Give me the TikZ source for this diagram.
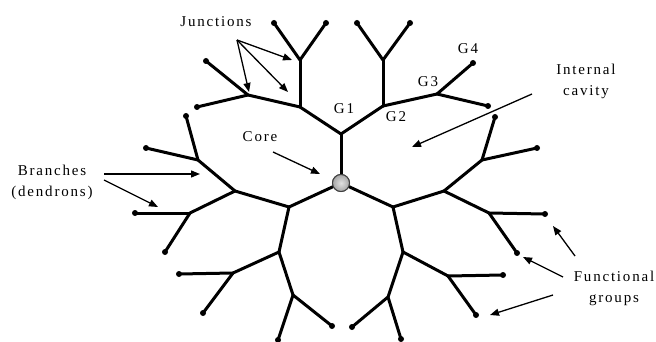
\documentclass[tikz,border=0pt]{standalone}
\usepackage{fontspec}
\setmainfont{Liberation Serif}[LetterSpace=12]
\usetikzlibrary{arrows.meta}
\begin{document}
\begin{tikzpicture}[x=1pt,y=-1pt,
  arm/.style={line width=3pt,line cap=round,line join=round},
  tipdot/.style={circle,fill=black,inner sep=0pt,minimum size=6pt},
  lbl/.style={font=\fontsize{15}{21}\selectfont,inner sep=0pt,align=center},
  pointer/.style={line width=1.3pt,-{Triangle[length=9pt,width=7pt]}},
  corestyle/.style={circle,draw=black!75,line width=1pt,inner sep=0pt,minimum size=17pt,inner color=black!12,outer color=black!35}]
\useasboundingbox (0,0) rectangle (656,342);
% core
\node[corestyle] (core) at (341,183) {};
% junctions
\coordinate (G1) at (341,134);
\coordinate (A) at (300,107);
\coordinate (B) at (383,106);
\coordinate (A1) at (300,60);
\coordinate (A2) at (248,95);
\coordinate (B1) at (383,60);
\coordinate (B2) at (437,94);
\coordinate (L) at (289,207);
\coordinate (La) at (235,191);
\coordinate (Lb) at (279,252);
\coordinate (La1) at (198,160);
\coordinate (La2) at (190,213);
\coordinate (Lb1) at (233,273);
\coordinate (Lb2) at (293,295);
\coordinate (R) at (393,207);
\coordinate (Ra) at (444,191);
\coordinate (Rb) at (403,252);
\coordinate (Ra1) at (482,160);
\coordinate (Ra2) at (489,213);
\coordinate (Rb1) at (448,276);
\coordinate (Rb2) at (388,297);
% end groups
\node[tipdot] (a11) at (274,23) {};
\node[tipdot] (a12) at (326,23) {};
\node[tipdot] (a21) at (206,61) {};
\node[tipdot] (a22) at (197,107) {};
\node[tipdot] (b11) at (357,23) {};
\node[tipdot] (b12) at (410,23) {};
\node[tipdot] (b21) at (473,63) {};
\node[tipdot] (b22) at (488,106) {};
\node[tipdot] (la11) at (186,116) {};
\node[tipdot] (la12) at (146,148) {};
\node[tipdot] (la21) at (135,213) {};
\node[tipdot] (la22) at (165,252) {};
\node[tipdot] (lb11) at (179,274) {};
\node[tipdot] (lb12) at (203,313) {};
\node[tipdot] (lb21) at (332,326) {};
\node[tipdot] (lb22) at (278,340) {};
\node[tipdot] (ra11) at (495,117) {};
\node[tipdot] (ra12) at (537,148) {};
\node[tipdot] (ra21) at (545,214) {};
\node[tipdot] (ra22) at (517,253) {};
\node[tipdot] (rb11) at (503,275) {};
\node[tipdot] (rb12) at (476,315) {};
\node[tipdot] (rb21) at (352,327) {};
\node[tipdot] (rb22) at (401,339) {};
% branches
\draw[arm] (core) -- (G1);
\draw[arm] (G1) -- (A); \draw[arm] (G1) -- (B);
\draw[arm] (A) -- (A1); \draw[arm] (A) -- (A2);
\draw[arm] (B) -- (B1); \draw[arm] (B) -- (B2);
\draw[arm] (A1) -- (a11.center); \draw[arm] (A1) -- (a12.center);
\draw[arm] (A2) -- (a21.center); \draw[arm] (A2) -- (a22.center);
\draw[arm] (B1) -- (b11.center); \draw[arm] (B1) -- (b12.center);
\draw[arm] (B2) -- (b21.center); \draw[arm] (B2) -- (b22.center);
\draw[arm] (core) -- (L);
\draw[arm] (L) -- (La); \draw[arm] (L) -- (Lb);
\draw[arm] (La) -- (La1); \draw[arm] (La) -- (La2);
\draw[arm] (Lb) -- (Lb1); \draw[arm] (Lb) -- (Lb2);
\draw[arm] (La1) -- (la11.center); \draw[arm] (La1) -- (la12.center);
\draw[arm] (La2) -- (la21.center); \draw[arm] (La2) -- (la22.center);
\draw[arm] (Lb1) -- (lb11.center); \draw[arm] (Lb1) -- (lb12.center);
\draw[arm] (Lb2) -- (lb21.center); \draw[arm] (Lb2) -- (lb22.center);
\draw[arm] (core) -- (R);
\draw[arm] (R) -- (Ra); \draw[arm] (R) -- (Rb);
\draw[arm] (Ra) -- (Ra1); \draw[arm] (Ra) -- (Ra2);
\draw[arm] (Rb) -- (Rb1); \draw[arm] (Rb) -- (Rb2);
\draw[arm] (Ra1) -- (ra11.center); \draw[arm] (Ra1) -- (ra12.center);
\draw[arm] (Ra2) -- (ra21.center); \draw[arm] (Ra2) -- (ra22.center);
\draw[arm] (Rb1) -- (rb11.center); \draw[arm] (Rb1) -- (rb12.center);
\draw[arm] (Rb2) -- (rb21.center); \draw[arm] (Rb2) -- (rb22.center);
\node[corestyle] at (core) {};
% labels
\node[lbl] (tJ) at (216,22) {Junctions};
\node[lbl] (tCore) at (260,137) {Core};
\node[lbl] (tG1) at (344,109) {G1};
\node[lbl] (tG2) at (396,117) {G2};
\node[lbl] (tG3) at (428,82) {G3};
\node[lbl] (tG4) at (468,49) {G4};
\node[lbl] (tBr) at (52,182) {Branches\\(dendrons)};
\node[lbl] (tIC) at (586,81) {Internal\\cavity};
\node[lbl] (tFG) at (614,288) {Functional\\groups};
% pointer arrows
\coordinate (jS) at (237,40);
\coordinate (jT1) at (292,60);
\coordinate (jT2) at (288,92);
\coordinate (jT3) at (249,92);
\draw[pointer] (jS) -- (jT1);
\draw[pointer] (jS) -- (jT2);
\draw[pointer] (jS) -- (jT3);
\coordinate (cS) at (273,152);
\coordinate (cT) at (320,174);
\draw[pointer] (cS) -- (cT);
\coordinate (bS1) at (104,174);
\coordinate (bT1) at (200,174);
\coordinate (bS2) at (104,180);
\coordinate (bT2) at (158,207);
\draw[pointer] (bS1) -- (bT1);
\draw[pointer] (bS2) -- (bT2);
\coordinate (iS) at (532,94);
\coordinate (iT) at (412,147);
\draw[pointer] (iS) -- (iT);
\coordinate (fS1) at (575,256);
\coordinate (fT1) at (553,226);
\coordinate (fS2) at (563,277);
\coordinate (fT2) at (523,257);
\coordinate (fS3) at (553,295);
\coordinate (fT3) at (490,315);
\draw[pointer] (fS1) -- (fT1);
\draw[pointer] (fS2) -- (fT2);
\draw[pointer] (fS3) -- (fT3);
\end{tikzpicture}
\end{document}
